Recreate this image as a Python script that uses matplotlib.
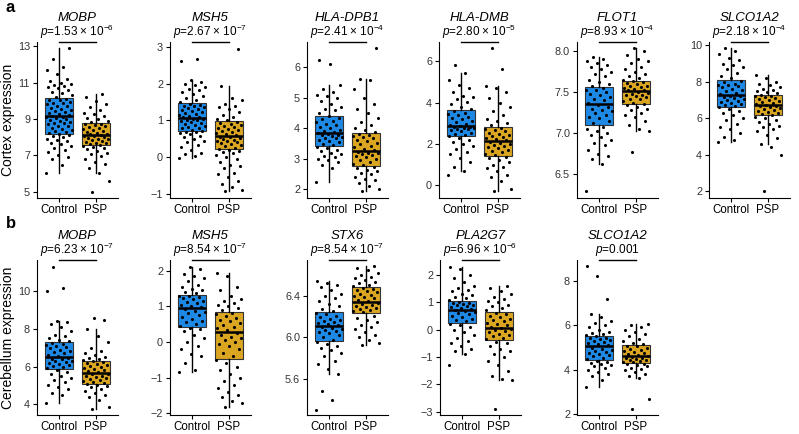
import numpy as np
import matplotlib
matplotlib.use('Agg')
import matplotlib.pyplot as plt

plt.rcParams['font.family'] = ['Liberation Sans', 'DejaVu Sans']
plt.rcParams['mathtext.fontset'] = 'custom'
plt.rcParams['mathtext.rm'] = 'Liberation Sans'
plt.rcParams['mathtext.it'] = 'Liberation Sans:italic'

groups = ['Control', 'PSP']
box_colors = ['#1E88E5', '#DAA520']

# ---- row a: cortex ----
a_genes = ['MOBP', 'MSH5', 'HLA-DPB1', 'HLA-DMB', 'FLOT1', 'SLCO1A2']
a_pvals = [r'$p$=1.53 × 10$^{-6}$', r'$p$=2.67 × 10$^{-7}$', r'$p$=2.41 × 10$^{-4}$',
           r'$p$=2.80 × 10$^{-5}$', r'$p$=8.93 × 10$^{-4}$', r'$p$=2.18 × 10$^{-4}$']
# box stats per gene: (q1, median, q3, whisker low, whisker high) for Control, PSP
a_box_ctrl = [(8.19, 9.15, 10.16, 6.0, 12.9), (0.70, 1.06, 1.47, -0.02, 2.1),
              (3.41, 3.86, 4.42, 2.23, 5.43), (2.37, 2.85, 3.62, 0.7, 5.41),
              (7.10, 7.35, 7.56, 6.62, 7.93), (6.63, 7.30, 8.12, 4.72, 9.83)]
a_box_psp = [(7.59, 8.14, 8.78, 6.03, 10.4), (0.21, 0.57, 0.97, -0.92, 1.94),
             (2.78, 3.25, 3.84, 1.96, 5.63), (1.41, 2.13, 2.80, -0.27, 4.8),
             (7.36, 7.51, 7.64, 7.02, 8.04), (6.17, 6.72, 7.26, 4.6, 8.38)]
a_ylim = [(4.65, 13.24), (-1.11, 3.13), (1.72, 6.83), (-0.62, 6.93), (6.21, 8.11), (1.64, 10.18)]
a_yticks = [[5, 7, 9, 11, 13], [-1, 0, 1, 2, 3], [2, 3, 4, 5, 6], [0, 2, 4, 6],
            [6.5, 7.0, 7.5, 8.0], [2, 4, 6, 8, 10]]

a_ctrl = [
    [6.0, 6.45, 6.8, 6.92, 7.0, 7.18, 7.3, 7.42, 7.5, 7.63, 7.7, 7.78, 7.85, 7.9, 8.02, 8.06, 8.12, 8.17,
     8.22, 8.27, 8.33, 8.4, 8.46, 8.52, 8.6, 8.64, 8.7, 8.77, 8.8, 8.86, 8.9, 8.96, 9.0, 9.05, 9.1, 9.13,
     9.18, 9.22, 9.26, 9.33, 9.4, 9.44, 9.5, 9.57, 9.62, 9.7, 9.74, 9.8, 9.86, 9.9, 9.95, 10.02, 10.06, 10.12,
     10.22, 10.3, 10.42, 10.5, 10.6, 10.68, 10.76, 10.8, 10.86, 10.9, 11.0, 11.1, 11.22, 11.5, 11.7, 11.85, 12.3, 12.9],
    [-0.02, 0.03, 0.08, 0.12, 0.2, 0.28, 0.33, 0.4, 0.45, 0.5, 0.55, 0.58, 0.62, 0.65, 0.68, 0.69,
     0.72, 0.75, 0.78, 0.8, 0.83, 0.86, 0.88, 0.9, 0.93, 0.95, 0.97, 1.0, 1.02, 1.04, 1.05,
     1.08, 1.1, 1.12, 1.15, 1.18, 1.2, 1.23, 1.26, 1.28, 1.3, 1.33, 1.36, 1.38, 1.4, 1.43, 1.45,
     1.5, 1.55, 1.6, 1.65, 1.72, 1.78, 1.82, 1.85, 1.9, 1.95, 2.0, 2.05, 2.1, 2.61, 2.68],
    [2.23, 2.7, 2.8, 2.9, 2.95, 3.0, 3.05, 3.1, 3.15, 3.2, 3.25, 3.3, 3.35, 3.38,
     3.45, 3.5, 3.55, 3.6, 3.63, 3.67, 3.7, 3.72, 3.75, 3.78, 3.8, 3.83, 3.85,
     3.88, 3.9, 3.95, 4.0, 4.05, 4.1, 4.15, 4.2, 4.25, 4.3, 4.35, 4.4,
     4.5, 4.6, 4.65, 4.7, 4.8, 4.9, 5.0, 5.05, 5.1, 5.2, 5.3, 5.43, 6.1, 6.25],
    [0.48, 0.7, 0.9, 1.1, 1.3, 1.5, 1.6, 1.75, 1.9, 2.0, 2.1, 2.2, 2.3,
     2.4, 2.45, 2.5, 2.55, 2.6, 2.65, 2.7, 2.72, 2.75, 2.78, 2.8, 2.83,
     2.88, 2.92, 2.97, 3.05, 3.1, 3.18, 3.25, 3.3, 3.4, 3.45, 3.5, 3.58,
     3.7, 3.8, 3.95, 4.05, 4.15, 4.25, 4.3, 4.5, 4.7, 4.85, 5.1, 5.41, 5.84],
    [6.3, 6.62, 6.68, 6.72, 6.75, 6.8, 6.85, 6.88, 6.92, 6.95, 6.98, 7.0, 7.02, 7.05, 7.08,
     7.12, 7.15, 7.18, 7.2, 7.22, 7.25, 7.27, 7.28, 7.3, 7.32, 7.34,
     7.37, 7.4, 7.42, 7.44, 7.46, 7.48, 7.5, 7.52, 7.53, 7.55,
     7.58, 7.6, 7.62, 7.65, 7.7, 7.72, 7.75, 7.78, 7.8, 7.83, 7.85, 7.88, 7.9, 7.93],
    [4.72, 4.8, 5.0, 5.2, 5.4, 5.5, 5.7, 5.9, 6.0, 6.2, 6.3, 6.4, 6.5, 6.6,
     6.7, 6.75, 6.8, 6.85, 6.9, 6.95, 7.0, 7.05, 7.1, 7.15, 7.2, 7.25,
     7.35, 7.4, 7.5, 7.55, 7.6, 7.7, 7.75, 7.8, 7.85, 7.9, 8.0, 8.05,
     8.2, 8.3, 8.5, 8.7, 8.8, 8.9, 9.0, 9.2, 9.3, 9.5, 9.7, 9.83],
]
a_psp = [
    [5.0, 5.6, 6.03, 6.3, 6.5, 6.65, 6.8, 6.95, 7.05, 7.15, 7.25, 7.33, 7.4, 7.45, 7.5, 7.55,
     7.62, 7.66, 7.7, 7.75, 7.8, 7.84, 7.88, 7.92, 7.96, 8.0, 8.04, 8.08, 8.12,
     8.17, 8.2, 8.25, 8.3, 8.34, 8.4, 8.45, 8.5, 8.55, 8.6, 8.65, 8.7, 8.75,
     8.82, 8.9, 8.98, 9.05, 9.15, 9.25, 9.35, 9.5, 9.65, 9.8, 10.0, 10.2, 10.4],
    [-0.92, -0.88, -0.8, -0.72, -0.65, -0.55, -0.45, -0.42, -0.3, -0.25, -0.2, -0.12, -0.05, 0.0, 0.05, 0.1, 0.15, 0.18, 0.2,
     0.23, 0.26, 0.3, 0.33, 0.36, 0.38, 0.4, 0.43, 0.45, 0.47, 0.5, 0.52, 0.54, 0.56,
     0.59, 0.62, 0.65, 0.68, 0.7, 0.73, 0.76, 0.8, 0.83, 0.85, 0.88, 0.9, 0.93, 0.95,
     1.0, 1.05, 1.1, 1.15, 1.22, 1.3, 1.35, 1.38, 1.45, 1.55, 1.6, 1.94, 2.95],
    [1.96, 2.0, 2.1, 2.2, 2.3, 2.35, 2.4, 2.5, 2.55, 2.6, 2.65, 2.7, 2.75,
     2.8, 2.85, 2.9, 2.95, 3.0, 3.05, 3.1, 3.12, 3.15, 3.18, 3.2, 3.23,
     3.28, 3.32, 3.38, 3.42, 3.48, 3.52, 3.58, 3.62, 3.68, 3.72, 3.76, 3.8, 3.82,
     3.88, 3.95, 4.0, 4.1, 4.2, 4.35, 4.5, 4.65, 4.8, 5.0, 5.3, 5.6, 5.63, 6.63],
    [-0.27, -0.2, 0.2, 0.4, 0.5, 0.7, 0.85, 0.9, 1.0, 1.1, 1.2, 1.3, 1.38,
     1.45, 1.5, 1.6, 1.65, 1.7, 1.8, 1.85, 1.9, 1.95, 2.0, 2.05, 2.1,
     2.18, 2.25, 2.3, 2.35, 2.4, 2.45, 2.5, 2.55, 2.6, 2.65, 2.7, 2.75,
     2.9, 3.0, 3.1, 3.2, 3.4, 3.6, 3.8, 4.0, 4.2, 4.5, 4.7, 4.8, 5.64, 6.64],
    [6.77, 7.02, 7.05, 7.1, 7.15, 7.2, 7.22, 7.25, 7.28, 7.3, 7.32, 7.34, 7.35,
     7.37, 7.39, 7.41, 7.42, 7.44, 7.45, 7.46, 7.47, 7.48, 7.49, 7.5,
     7.52, 7.53, 7.54, 7.55, 7.56, 7.57, 7.58, 7.6, 7.61, 7.62, 7.63,
     7.65, 7.67, 7.7, 7.72, 7.75, 7.78, 7.8, 7.85, 7.88, 7.9, 7.95, 8.0, 8.04],
    [2.05, 4.0, 4.45, 4.6, 4.9, 5.1, 5.3, 5.4, 5.5, 5.6, 5.7, 5.8, 5.9, 6.0, 6.1,
     6.2, 6.25, 6.3, 6.35, 6.4, 6.45, 6.5, 6.55, 6.6, 6.65, 6.7,
     6.75, 6.8, 6.85, 6.9, 6.95, 7.0, 7.05, 7.1, 7.15, 7.2, 7.25,
     7.3, 7.4, 7.45, 7.5, 7.55, 7.6, 7.7, 7.8, 7.9, 8.0, 8.2, 8.38],
]

# ---- row b: cerebellum ----
b_genes = ['MOBP', 'MSH5', 'STX6', 'PLA2G7', 'SLCO1A2']
b_pvals = [r'$p$=6.23 × 10$^{-7}$', r'$p$=8.54 × 10$^{-7}$', r'$p$=8.54 × 10$^{-7}$',
           r'$p$=6.96 × 10$^{-6}$', r'$p$=0.001']
b_box_ctrl = [(5.88, 6.49, 7.28, 4.04, 8.42), (0.43, 0.95, 1.33, -0.85, 2.1),
              (5.97, 6.11, 6.24, 5.65, 6.54), (0.25, 0.73, 1.04, -0.89, 2.27),
              (4.46, 5.05, 5.53, 3.23, 6.52)]
b_box_psp = [(5.09, 5.65, 6.32, 3.72, 7.98), (-0.47, 0.29, 0.84, -1.83, 1.94),
             (6.23, 6.34, 6.48, 5.93, 6.68), (-0.39, 0.07, 0.64, -1.86, 1.58),
             (4.31, 4.61, 5.10, 3.64, 6.07)]
b_ylim = [(3.42, 11.67), (-2.05, 2.3), (5.26, 6.74), (-3.12, 2.54), (1.97, 8.93)]
b_yticks = [[4, 6, 8, 10], [-2, -1, 0, 1, 2], [5.6, 6.0, 6.4], [-3, -2, -1, 0, 1, 2], [2, 4, 6, 8]]

b_ctrl = [
    [4.04, 4.5, 4.6, 4.8, 4.9, 5.0, 5.2, 5.3, 5.4, 5.5, 5.6, 5.7, 5.8,
     5.92, 5.98, 6.02, 6.08, 6.12, 6.18, 6.22, 6.28, 6.32, 6.38, 6.42, 6.46,
     6.55, 6.6, 6.7, 6.75, 6.85, 6.9, 7.0, 7.05, 7.1, 7.15, 7.2, 7.25,
     7.35, 7.4, 7.5, 7.6, 7.7, 7.9, 8.1, 8.25, 8.35, 8.42, 10.04, 10.2, 11.3],
    [-0.85, -0.8, -0.6, -0.4, -0.35, -0.2, -0.1, 0.0, 0.1, 0.2, 0.3, 0.35, 0.4,
     0.45, 0.5, 0.55, 0.6, 0.65, 0.7, 0.75, 0.8, 0.85, 0.88, 0.92,
     0.98, 1.02, 1.05, 1.1, 1.12, 1.15, 1.2, 1.22, 1.25, 1.28, 1.3,
     1.36, 1.4, 1.45, 1.5, 1.55, 1.6, 1.7, 1.8, 1.85, 1.9, 2.05, 2.1],
    [5.31, 5.40, 5.49, 5.65, 5.7, 5.75, 5.78, 5.82, 5.85, 5.88, 5.9, 5.92, 5.94, 5.96,
     5.98, 6.0, 6.02, 6.04, 6.05, 6.06, 6.07, 6.08, 6.09, 6.1,
     6.12, 6.13, 6.14, 6.15, 6.16, 6.17, 6.18, 6.2, 6.21, 6.22, 6.23,
     6.25, 6.27, 6.3, 6.32, 6.35, 6.38, 6.4, 6.42, 6.45, 6.48, 6.5, 6.52, 6.54],
    [-1.31, -0.89, -0.8, -0.7, -0.6, -0.5, -0.4, -0.3, -0.2, -0.1, 0.0, 0.1, 0.15, 0.2,
     0.3, 0.35, 0.4, 0.45, 0.5, 0.55, 0.6, 0.63, 0.66, 0.7,
     0.76, 0.79, 0.82, 0.85, 0.88, 0.9, 0.93, 0.96, 0.98, 1.01,
     1.08, 1.15, 1.2, 1.25, 1.3, 1.4, 1.45, 1.5, 1.6, 1.75, 1.9, 2.0, 2.2, 2.27],
    [3.23, 3.55, 3.7, 3.8, 3.9, 4.0, 4.1, 4.15, 4.2, 4.25, 4.3, 4.35, 4.4,
     4.5, 4.55, 4.6, 4.65, 4.7, 4.75, 4.8, 4.85, 4.9, 4.95, 5.0,
     5.1, 5.15, 5.2, 5.25, 5.3, 5.35, 5.38, 5.42, 5.45, 5.5,
     5.55, 5.6, 5.65, 5.7, 5.8, 5.9, 6.0, 6.1, 6.2, 6.35, 6.52, 7.19, 8.22, 8.64],
]
b_psp = [
    [3.72, 3.85, 4.2, 4.4, 4.5, 4.6, 4.7, 4.8, 4.9, 4.95, 5.0, 5.05,
     5.12, 5.18, 5.22, 5.28, 5.32, 5.38, 5.42, 5.48, 5.52, 5.58, 5.62,
     5.7, 5.75, 5.8, 5.85, 5.92, 6.0, 6.05, 6.1, 6.15, 6.2, 6.25, 6.3,
     6.35, 6.4, 6.45, 6.5, 6.6, 6.7, 6.8, 7.0, 7.3, 7.6, 7.98, 8.5, 8.6],
    [-1.83, -1.7, -1.65, -1.55, -1.5, -1.4, -1.3, -1.2, -1.1, -1.0, -0.9, -0.8, -0.7, -0.6, -0.5,
     -0.4, -0.3, -0.2, -0.1, -0.05, 0.0, 0.05, 0.1, 0.15, 0.2, 0.25,
     0.33, 0.38, 0.42, 0.48, 0.52, 0.58, 0.62, 0.68, 0.72, 0.78, 0.82,
     0.9, 0.95, 1.0, 1.05, 1.1, 1.15, 1.2, 1.3, 1.45, 1.55, 1.85, 1.94],
    [5.93, 5.95, 5.98, 6.0, 6.02, 6.05, 6.08, 6.1, 6.12, 6.15, 6.17, 6.19, 6.21,
     6.24, 6.25, 6.26, 6.27, 6.28, 6.29, 6.3, 6.31, 6.32, 6.33,
     6.35, 6.36, 6.38, 6.39, 6.4, 6.41, 6.42, 6.43, 6.44, 6.45, 6.46, 6.47,
     6.49, 6.5, 6.52, 6.53, 6.55, 6.57, 6.58, 6.6, 6.62, 6.64, 6.66, 6.68],
    [-2.9, -1.86, -1.8, -1.7, -1.5, -1.3, -1.15, -1.0, -0.9, -0.8, -0.7, -0.6, -0.5, -0.45,
     -0.35, -0.3, -0.25, -0.2, -0.15, -0.1, -0.05, 0.0, 0.03, 0.05,
     0.1, 0.15, 0.2, 0.25, 0.3, 0.35, 0.4, 0.45, 0.5, 0.55, 0.6,
     0.7, 0.8, 0.85, 0.9, 1.0, 1.05, 1.1, 1.2, 1.3, 1.4, 1.5, 1.58],
    [2.24, 2.71, 3.64, 3.7, 3.8, 3.9, 4.0, 4.05, 4.1, 4.15, 4.2, 4.25, 4.28,
     4.33, 4.36, 4.4, 4.43, 4.46, 4.5, 4.52, 4.55, 4.58, 4.6,
     4.65, 4.7, 4.75, 4.8, 4.85, 4.9, 4.95, 5.0, 5.05, 5.08,
     5.15, 5.2, 5.3, 5.4, 5.5, 5.6, 5.7, 5.8, 5.9, 6.0, 6.07],
]

W, H = 799, 434
fig = plt.figure(figsize=(W / 100, H / 100), dpi=100)


def px_axes(left, top, right, bottom):
    return fig.add_axes([left / W, 1 - bottom / H, (right - left) / W, (bottom - top) / H])


def jitter(n, k):
    # deterministic spread of points across the box width
    return ((np.arange(n) * 0.6180339 + 0.37 * k) % 1.0 - 0.5) * 0.72


def draw_panel(ax, gene, ptxt, ctrl, psp, bc, bp, ylim, yticks):
    stats = []
    for b in (bc, bp):
        stats.append(dict(q1=b[0], med=b[1], q3=b[2], whislo=b[3], whishi=b[4], fliers=[]))
    bx = ax.bxp(stats, positions=[1, 2], widths=0.75, patch_artist=True,
                showcaps=False, showfliers=False,
                boxprops=dict(edgecolor='#333333', linewidth=0.8),
                medianprops=dict(color='black', linewidth=1.8),
                whiskerprops=dict(color='black', linewidth=1.0))
    for patch, c in zip(bx['boxes'], box_colors):
        patch.set_facecolor(c)
    for k, vals in enumerate((ctrl, psp)):
        vals = np.array(vals)
        ax.scatter(k + 1 + jitter(len(vals), k), vals, s=5, color='black',
                   linewidths=0, zorder=3)
    ax.set_xlim(0.4, 2.6)
    ax.set_ylim(*ylim)
    ax.set_yticks(yticks)
    if any(isinstance(t, float) for t in yticks):
        ax.set_yticklabels(['%.1f' % t for t in yticks])
    ax.set_xticks([1, 2])
    ax.set_xticklabels(groups, fontsize=8.3, color='black')
    ax.tick_params(axis='y', labelsize=7.8, labelcolor='#333333', length=3, width=0.8, pad=2)
    ax.tick_params(axis='x', length=3, width=0.8, pad=1.5)
    for s in ('top', 'right'):
        ax.spines[s].set_visible(False)
    for s in ('left', 'bottom'):
        ax.spines[s].set_linewidth(0.8)
    ax.plot([1, 2], [1, 1], color='black', linewidth=1.0,
            transform=ax.get_xaxis_transform(), clip_on=False)
    ax.annotate(gene, xy=(0.5, 1), xycoords='axes fraction', xytext=(0, 24 * 0.72),
                textcoords='offset points', ha='center', va='center',
                fontsize=9.5, style='italic')
    ax.annotate(ptxt, xy=(0.5, 1), xycoords='axes fraction', xytext=(0, 10 * 0.72),
                textcoords='offset points', ha='center', va='center', fontsize=8.5)


a_left = [37, 170, 307, 439, 577, 709]
b_left = [37, 170, 307, 440, 577]
pw = 81

for i in range(6):
    ax = px_axes(a_left[i], 42, a_left[i] + pw, 198)
    draw_panel(ax, a_genes[i], a_pvals[i], a_ctrl[i], a_psp[i],
               a_box_ctrl[i], a_box_psp[i], a_ylim[i], a_yticks[i])

for i in range(5):
    ax = px_axes(b_left[i], 260, b_left[i] + pw, 415)
    draw_panel(ax, b_genes[i], b_pvals[i], b_ctrl[i], b_psp[i],
               b_box_ctrl[i], b_box_psp[i], b_ylim[i], b_yticks[i])

fig.text(8 / W, 1 - 120 / H, 'Cortex expression', rotation=90, ha='center', va='center', fontsize=10)
fig.text(8 / W, 1 - 338 / H, 'Cerebellum expression', rotation=90, ha='center', va='center', fontsize=10)
fig.text(6 / W, 1 - 8 / H, 'a', fontsize=12, fontweight='bold', ha='left', va='center')
fig.text(6 / W, 1 - 224 / H, 'b', fontsize=12, fontweight='bold', ha='left', va='center')

fig.savefig('out.png', dpi=100)
